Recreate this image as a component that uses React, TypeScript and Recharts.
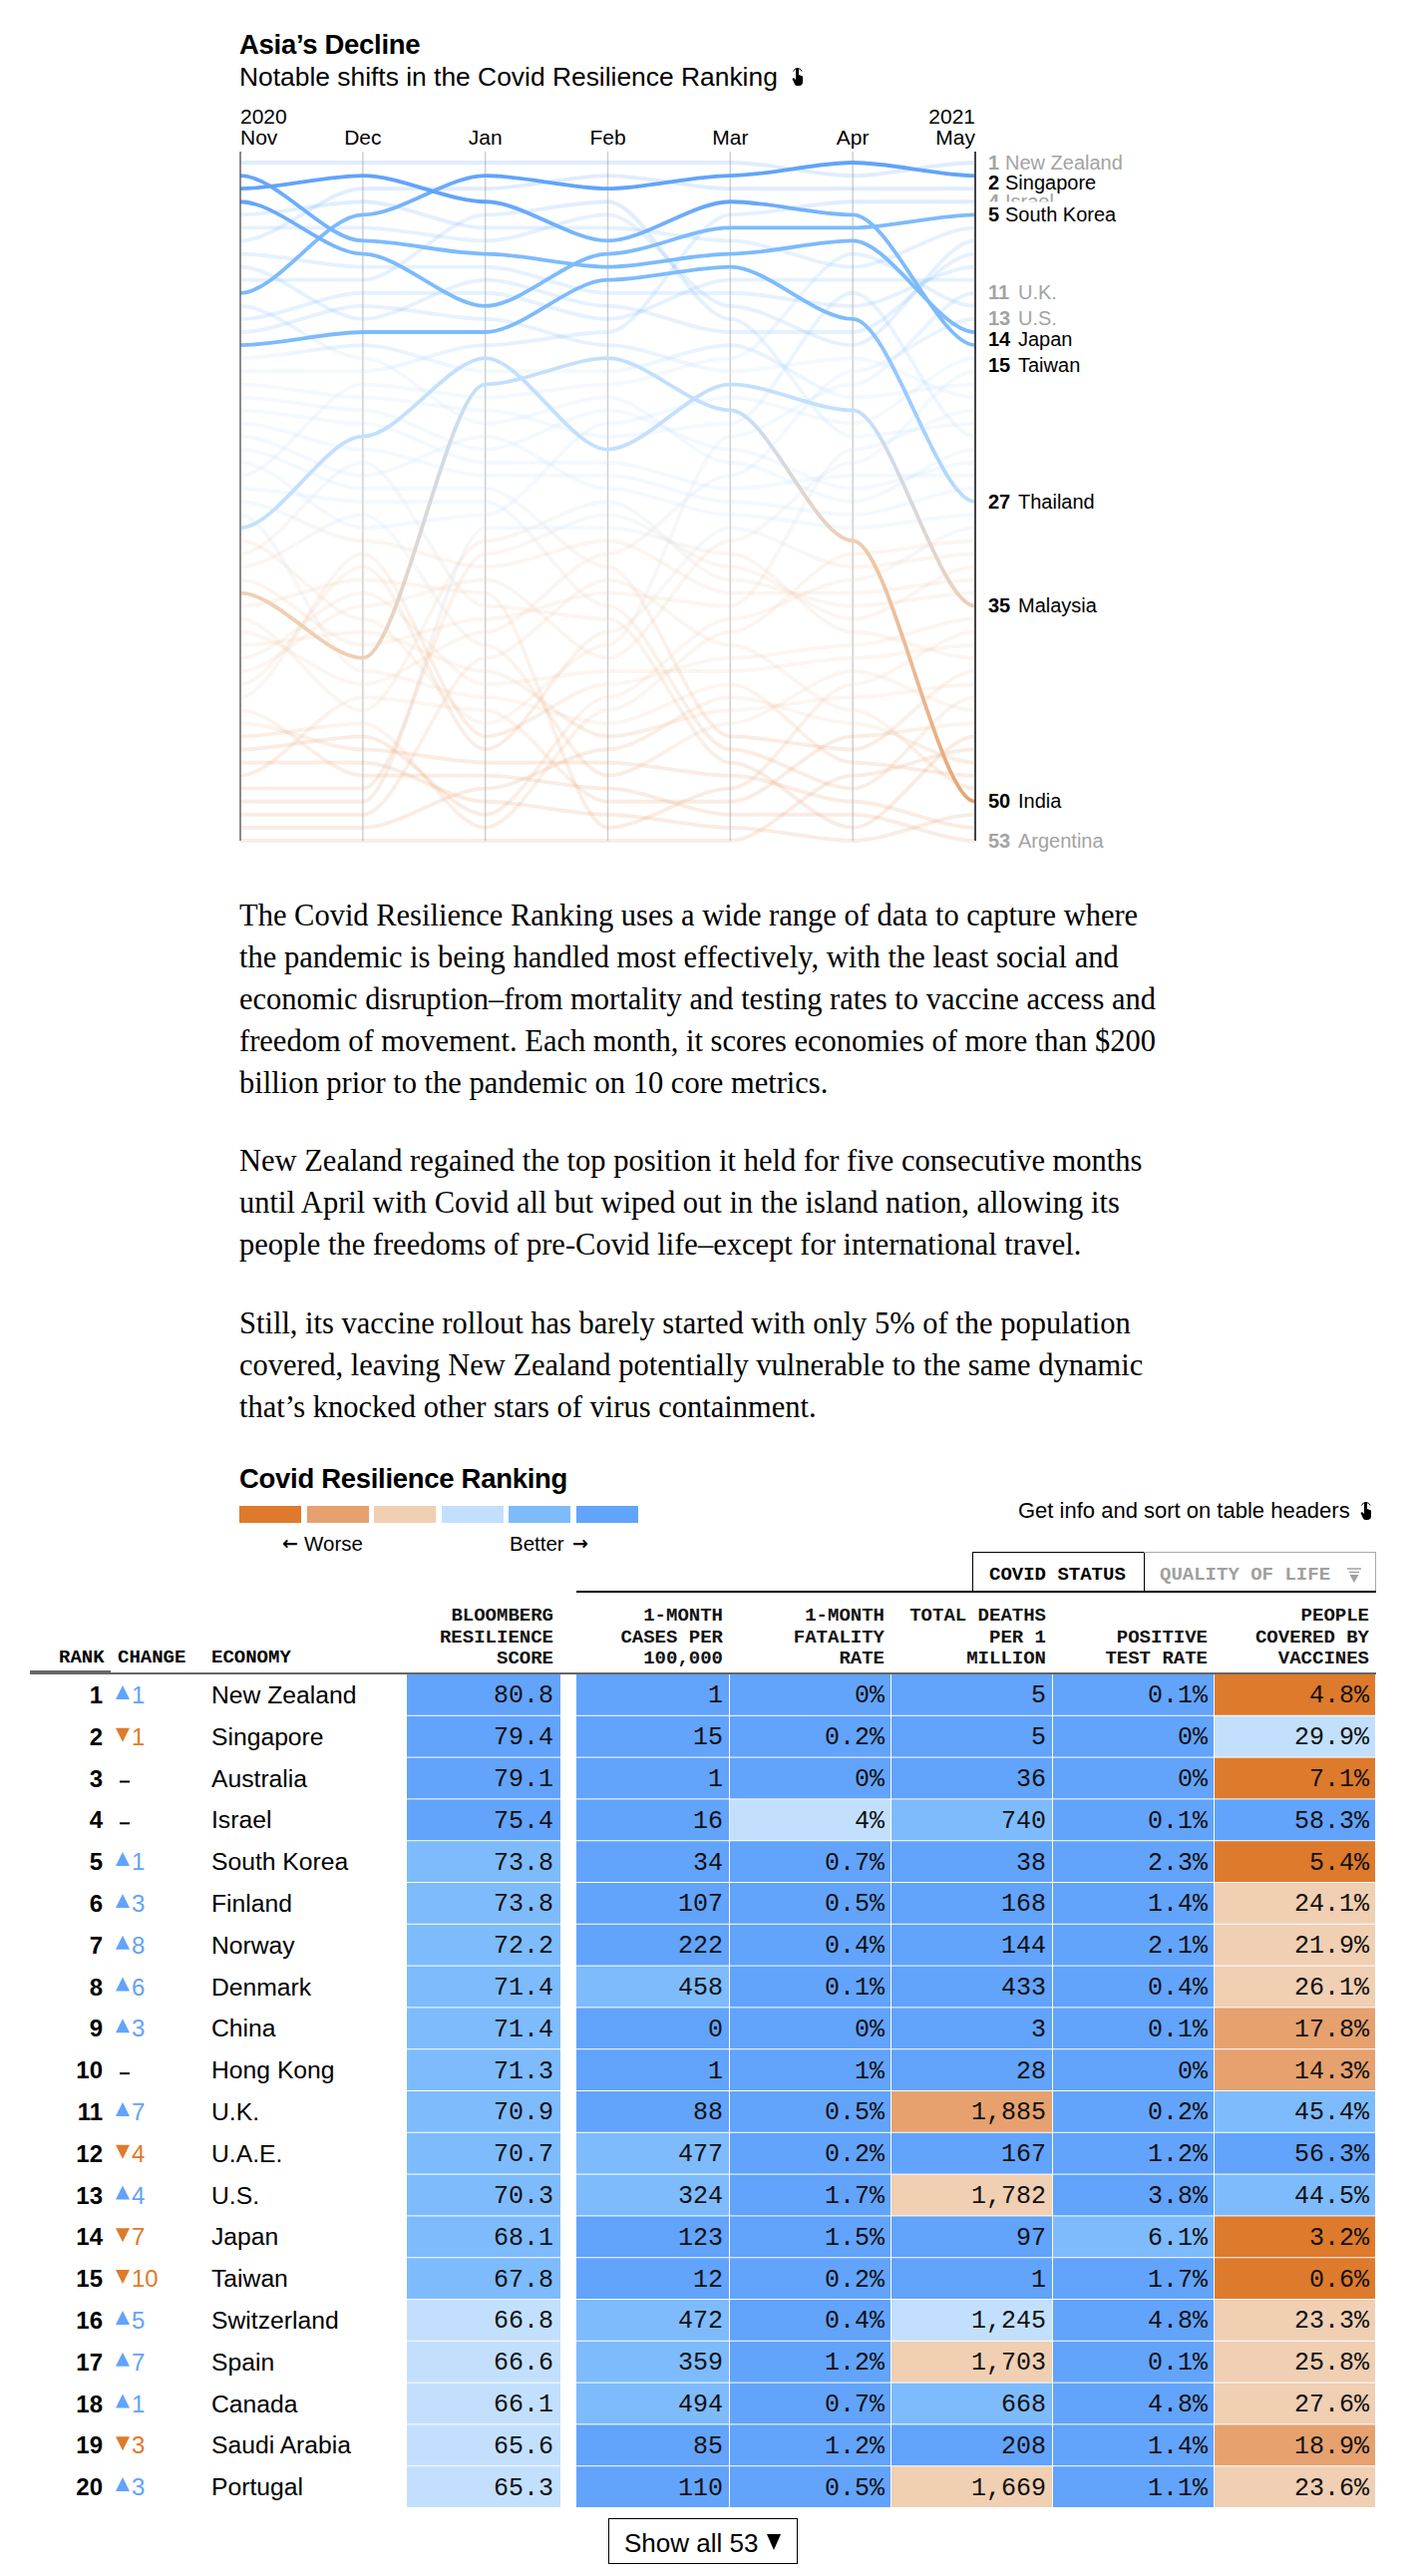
import { CartesianGrid, Line, LineChart, ReferenceLine, Scatter, ScatterChart, XAxis, YAxis } from "recharts";

const SANS = "'Liberation Sans', Arial, sans-serif";
const MONO = "'Liberation Mono', monospace";
const SERIF = "'Liberation Serif', serif";

const months = ["Nov", "Dec", "Jan", "Feb", "Mar", "Apr", "May"];
const yearLabels = ["2020", "", "", "", "", "", "2021"];

const highlightNames = ["Singapore", "South Korea", "Japan", "Taiwan", "Thailand", "Malaysia", "India"];
const highlightRanks = [
	[11, 5, 2, 3, 2, 1, 2],
	[4, 8, 12, 8, 6, 6, 5],
	[2, 7, 8, 9, 8, 7, 14],
	[3, 2, 4, 7, 4, 5, 15],
	[15, 14, 14, 10, 9, 13, 27],
	[29, 22, 16, 23, 18, 20, 35],
	[34, 39, 18, 16, 20, 30, 50],
];

const backgroundNames = [
	"New Zealand", "Australia", "Israel", "Finland", "Norway", "Denmark", "China", "Hong Kong", "UK", "UAE", "US",
	"Switzerland", "Spain", "Canada", "Saudi Arabia", "Portugal", "Vietnam", "Mexico", "Pakistan", "Peru", "Philippines",
	"Iran", "South Africa", "Brazil", "Argentina", "Colombia", "Iraq", "Egypt", "Nigeria", "Bangladesh", "Indonesia",
	"Austria", "Ireland", "Netherlands", "Sweden", "Germany", "France", "Russia", "Turkey", "Greece", "Poland", "Belgium",
	"Italy", "Czech Republic", "Romania", "Chile",
];
const backgroundRanks = [
	[1, 1, 1, 1, 1, 2, 1],
	[7, 3, 3, 2, 3, 3, 3],
	[17, 17, 15, 14, 5, 4, 4],
	[5, 4, 6, 6, 7, 9, 6],
	[6, 6, 7, 5, 12, 15, 7],
	[9, 13, 10, 12, 14, 14, 8],
	[8, 9, 9, 11, 11, 12, 9],
	[13, 11, 11, 13, 10, 10, 10],
	[30, 36, 44, 38, 22, 18, 11],
	[25, 18, 19, 18, 16, 8, 12],
	[37, 41, 37, 31, 25, 17, 13],
	[24, 29, 28, 21, 19, 21, 16],
	[40, 35, 33, 39, 30, 24, 17],
	[16, 15, 17, 17, 15, 19, 18],
	[14, 12, 13, 15, 17, 16, 19],
	[33, 38, 36, 34, 35, 23, 20],
	[10, 10, 5, 4, 13, 22, 21],
	[53, 53, 53, 53, 53, 48, 46],
	[52, 52, 49, 46, 42, 44, 47],
	[51, 51, 39, 33, 38, 43, 49],
	[47, 47, 50, 51, 52, 53, 51],
	[45, 44, 52, 43, 37, 31, 30],
	[46, 45, 51, 42, 36, 33, 29],
	[44, 46, 47, 47, 48, 50, 52],
	[43, 48, 48, 49, 51, 51, 53],
	[28, 40, 42, 44, 41, 47, 48],
	[48, 42, 43, 50, 50, 45, 44],
	[35, 33, 34, 52, 49, 41, 37],
	[12, 16, 21, 19, 24, 27, 23],
	[18, 19, 20, 22, 21, 11, 22],
	[19, 20, 23, 20, 23, 26, 24],
	[20, 21, 24, 24, 26, 25, 25],
	[21, 23, 25, 25, 27, 28, 26],
	[22, 25, 22, 26, 28, 29, 28],
	[27, 30, 32, 30, 34, 34, 33],
	[38, 37, 40, 45, 43, 42, 41],
	[39, 34, 41, 40, 40, 39, 38],
	[41, 32, 46, 37, 29, 32, 31],
	[42, 31, 45, 41, 39, 38, 36],
	[36, 43, 30, 27, 33, 35, 34],
	[49, 49, 31, 28, 32, 36, 32],
	[50, 50, 29, 29, 31, 37, 39],
	[23, 26, 26, 32, 45, 46, 40],
	[26, 27, 27, 35, 46, 49, 42],
	[31, 24, 35, 36, 47, 52, 45],
	[32, 28, 38, 48, 44, 40, 43],
];

const labelRanks = [1, 2, 4, 5, 11, 13, 14, 15, 27, 35, 50, 53];
const labelNames = ["New Zealand", "Singapore", "Israel", "South Korea", "U.K.", "U.S.", "Japan", "Taiwan", "Thailand", "Malaysia", "India", "Argentina"];
const labelDark = [false, true, false, true, false, false, true, true, true, true, true, false];
// labels pushed down so they don't sit on each other
const labelNudge: Record<number, number> = { 2: 7, 14: 7, 15: 20 };

const economies = ["New Zealand", "Singapore", "Australia", "Israel", "South Korea", "Finland", "Norway", "Denmark", "China", "Hong Kong", "U.K.", "U.A.E.", "U.S.", "Japan", "Taiwan", "Switzerland", "Spain", "Canada", "Saudi Arabia", "Portugal"];
const rankChange = [1, -1, 0, 0, 1, 3, 8, 6, 3, 0, 7, -4, 4, -7, -10, 5, 7, 1, -3, 3];

const resilienceScore = [80.8, 79.4, 79.1, 75.4, 73.8, 73.8, 72.2, 71.4, 71.4, 71.3, 70.9, 70.7, 70.3, 68.1, 67.8, 66.8, 66.6, 66.1, 65.6, 65.3];
const casesPer100k = [1, 15, 1, 16, 34, 107, 222, 458, 0, 1, 88, 477, 324, 123, 12, 472, 359, 494, 85, 110];
const fatalityRate = [0, 0.2, 0, 4, 0.7, 0.5, 0.4, 0.1, 0, 1, 0.5, 0.2, 1.7, 1.5, 0.2, 0.4, 1.2, 0.7, 1.2, 0.5];
const deathsPerMillion = [5, 5, 36, 740, 38, 168, 144, 433, 3, 28, 1885, 167, 1782, 97, 1, 1245, 1703, 668, 208, 1669];
const positiveRate = [0.1, 0, 0, 0.1, 2.3, 1.4, 2.1, 0.4, 0.1, 0, 0.2, 1.2, 3.8, 6.1, 1.7, 4.8, 0.1, 4.8, 1.4, 1.1];
const vaccineCoverage = [4.8, 29.9, 7.1, 58.3, 5.4, 24.1, 21.9, 26.1, 17.8, 14.3, 45.4, 56.3, 44.5, 3.2, 0.6, 23.3, 25.8, 27.6, 18.9, 23.6];

// color class of each cell, 0 = worst .. 5 = best
const scoreLevels = [5, 5, 5, 5, 4, 4, 4, 4, 4, 4, 4, 4, 4, 4, 4, 3, 3, 3, 3, 3];
const casesLevels = [5, 5, 5, 5, 5, 5, 5, 4, 5, 5, 5, 4, 4, 5, 5, 4, 4, 4, 5, 5];
const fatalityLevels = [5, 5, 5, 3, 5, 5, 5, 5, 5, 5, 5, 5, 5, 5, 5, 5, 5, 5, 5, 5];
const deathsLevels = [5, 5, 5, 4, 5, 5, 5, 5, 5, 5, 1, 5, 2, 5, 5, 3, 2, 4, 5, 2];
const positiveLevels = [5, 5, 5, 5, 5, 5, 5, 5, 5, 5, 5, 5, 5, 4, 5, 5, 5, 5, 5, 5];
const vaccineLevels = [0, 3, 0, 5, 0, 2, 2, 2, 1, 1, 4, 5, 4, 0, 0, 2, 2, 2, 1, 2];

const metricHeaders = [
	["BLOOMBERG", "RESILIENCE", "SCORE"],
	["1-MONTH", "CASES PER", "100,000"],
	["1-MONTH", "FATALITY", "RATE"],
	["TOTAL DEATHS", "PER 1", "MILLION"],
	["", "POSITIVE", "TEST RATE"],
	["PEOPLE", "COVERED BY", "VACCINES"],
];
const metricKeys = metricHeaders.map((lines) => lines.join(" ").trim());

const LEVEL_COLORS = ["#de7a2c", "#e6a16e", "#f0cfb3", "#c2e0fe", "#7dbbfc", "#62a3fb"];

const paragraphs = [
	[
		"The Covid Resilience Ranking uses a wide range of data to capture where",
		"the pandemic is being handled most effectively, with the least social and",
		"economic disruption\u2013from mortality and testing rates to vaccine access and",
		"freedom of movement. Each month, it scores economies of more than $200",
		"billion prior to the pandemic on 10 core metrics.",
	],
	[
		"New Zealand regained the top position it held for five consecutive months",
		"until April with Covid all but wiped out in the island nation, allowing its",
		"people the freedoms of pre-Covid life\u2013except for international travel.",
	],
	[
		"Still, its vaccine rollout has barely started with only 5% of the population",
		"covered, leaving New Zealand potentially vulnerable to the same dynamic",
		"that\u2019s knocked other stars of virus containment.",
	],
];
const paragraphTops = [918, 1164, 1327];

const rankColor = (rank: number) => {
	if (rank <= 4) return LEVEL_COLORS[5];
	if (rank <= 15) return LEVEL_COLORS[4];
	if (rank <= 29) return LEVEL_COLORS[3];
	if (rank <= 44) return LEVEL_COLORS[2];
	return LEVEL_COLORS[1];
};

const bumpRows = months.map((month, m) => {
	const row: Record<string, number | string> = { month };
	highlightNames.forEach((name, i) => (row[name] = highlightRanks[i][m]));
	backgroundNames.forEach((name, i) => (row[name] = backgroundRanks[i][m]));
	return row;
});

const metrics = [
	{ values: resilienceScore, levels: scoreLevels, format: (v: number) => v.toFixed(1) },
	{ values: casesPer100k, levels: casesLevels, format: (v: number) => String(v) },
	{ values: fatalityRate, levels: fatalityLevels, format: (v: number) => `${v}%` },
	{ values: deathsPerMillion, levels: deathsLevels, format: (v: number) => v.toLocaleString("en-US") },
	{ values: positiveRate, levels: positiveLevels, format: (v: number) => `${v}%` },
	{ values: vaccineCoverage, levels: vaccineLevels, format: (v: number) => `${v.toFixed(1)}%` },
];
const cells = economies.flatMap((economy, row) =>
	metrics.map((metric, col) => ({
		economy,
		metric: metricKeys[col],
		col,
		text: metric.format(metric.values[row]),
		level: metric.levels[row],
	})),
);

const CELL_W = 162;
const CELL_H = 41.8;

// like d3's bumpX but the flat part at each month is shorter
const softBumpX = (context: any) => {
	let px = 0;
	let py = 0;
	let n = 0;
	return {
		areaStart() {},
		areaEnd() {},
		lineStart() {
			n = 0;
		},
		lineEnd() {},
		point(x: number, y: number) {
			if (n === 0) context.moveTo(x, y);
			else {
				const dx = (x - px) * 0.3;
				context.bezierCurveTo(px + dx, py, x - dx, y, x, y);
			}
			px = x;
			py = y;
			n++;
		},
	};
};

const RankGradient = ({ id, ranks }: { id: string; ranks: number[] }) => (
	<linearGradient id={id} gradientUnits="userSpaceOnUse" x1={241} x2={978} y1={0} y2={0}>
		{ranks.map((r, i) => (
			<stop key={i} offset={i / (ranks.length - 1)} stopColor={rankColor(r)} />
		))}
	</linearGradient>
);

const MonthTick = ({ x, payload, index }: any) => {
	const anchor = index === 0 ? "start" : index === months.length - 1 ? "end" : "middle";
	return (
		<g fontFamily={SANS} fontSize={21} fill="#000" textAnchor={anchor}>
			{yearLabels[index] && (
				<text x={x} y={124}>
					{yearLabels[index]}
				</text>
			)}
			<text x={x} y={145}>
				{payload.value}
			</text>
		</g>
	);
};

const RankLabelTick = ({ y, payload }: any) => {
	const rank = payload.value;
	const i = labelRanks.indexOf(rank);
	const dark = labelDark[i];
	const fill = dark ? "#000" : "#a3a3a3";
	const cy = y + (labelNudge[rank] ?? 0);
	return (
		<g fontFamily={SANS} fontSize={20} fill={fill}>
			{dark && <rect x={984} y={cy - 13} width={230} height={24} fill="#fff" />}
			<text x={991} y={cy + 6.5} fontWeight="bold">
				{rank}
			</text>
			<text x={rank < 10 ? 1008 : 1021} y={cy + 6.5}>
				{labelNames[i]}
			</text>
		</g>
	);
};

const HeaderTick = ({ x, payload }: any) => {
	const col = metricKeys.indexOf(payload.value);
	const right = x + CELL_W / 2 - (col === 0 ? 15 : 7);
	return (
		<g fontFamily={MONO} fontSize={19} fontWeight="bold" fill="#111" textAnchor="end">
			{metricHeaders[col].map((line, i) => (
				<text key={i} x={right} y={85 + i * 21.5}>
					{line}
				</text>
			))}
		</g>
	);
};

const EconomyTick = ({ y, payload }: any) => {
	const i = economies.indexOf(payload.value);
	const change = rankChange[i];
	const color = change > 0 ? LEVEL_COLORS[5] : LEVEL_COLORS[0];
	return (
		<g fontFamily={SANS} fontSize={24}>
			<text x={103} y={y + 9} textAnchor="end" fontWeight="bold" fill="#000">
				{i + 1}
			</text>
			{change === 0 ? (
				<rect x={120} y={y + 3} width={10} height={2} fill="#000" />
			) : (
				<g>
					<polygon
						points={change > 0 ? `116,${y + 5} 130,${y + 5} 123,${y - 9}` : `116,${y - 8} 130,${y - 8} 123,${y + 6}`}
						fill={color}
					/>
					<text x={132} y={y + 9} fill={color}>
						{Math.abs(change)}
					</text>
				</g>
			)}
			<text x={212} y={y + 9} fill="#000" fontSize={24.7}>
				{payload.value}
			</text>
		</g>
	);
};

const CellShape = ({ cx, cy, payload }: any) => {
	// score and cases columns are pulled apart, leaving a white gap between them
	const left = cx - CELL_W / 2 + (payload.col === 1 ? 8 : 0);
	const right = cx + CELL_W / 2 - (payload.col === 0 ? 8 : 1);
	const textRight = cx + CELL_W / 2 - (payload.col === 0 ? 15 : 7);
	return (
		<g>
			<rect x={left} y={cy - CELL_H / 2 + 1} width={right - left} height={CELL_H - 1} fill={LEVEL_COLORS[payload.level]} />
			<text x={textRight} y={cy + 8.5} textAnchor="end" fontFamily={MONO} fontSize={25} fill="#111">
				{payload.text}
			</text>
		</g>
	);
};

const Text = ({ left, top, size, children, bold, color = "#000", font = SANS, spacing = 0 }: any) => (
	<div
		style={{
			position: "absolute",
			left,
			top,
			transform: "translateY(-50%)",
			whiteSpace: "nowrap",
			lineHeight: 1,
			fontFamily: font,
			fontSize: size,
			fontWeight: bold ? "bold" : "normal",
			color,
			letterSpacing: spacing,
		}}>
		{children}
	</div>
);

const Box = ({ left, top, width, height, style }: any) => (
	<div style={{ position: "absolute", left, top, width, height, boxSizing: "border-box", ...style }} />
);

const HandIcon = ({ left, top }: { left: number; top: number }) => (
	<svg style={{ position: "absolute", left, top }} width={14} height={20} viewBox="0 0 14 20">
		<path d="M5 8 V2.5 a1.5 1.5 0 0 1 3 0 V8 l4 1.5 V15 a4 4 0 0 1 -4 4 H6.5 a3 3 0 0 1 -2.4 -1.2 L1.5 12 l1.5 -1 L5 13 Z" fill="#000" />
		<path d="M2.5 4.5 a4.5 4.5 0 0 1 8.5 0" fill="none" stroke="#000" strokeWidth={1} />
	</svg>
);

const BumpChart = () => (
	<div style={{ position: "absolute", left: 0, top: 0 }}>
		<LineChart width={1422} height={860} data={bumpRows} margin={{ top: 122, right: 0, bottom: 17, left: 241 }}>
			<defs>
				{highlightRanks.map((ranks, i) => (
					<RankGradient key={i} id={`hl-${i}`} ranks={ranks} />
				))}
				{backgroundRanks.map((ranks, i) => (
					<RankGradient key={i} id={`bg-${i}`} ranks={ranks} />
				))}
			</defs>
			<CartesianGrid horizontal={false} stroke="#cfcfcf" strokeWidth={1.5} />
			<XAxis dataKey="month" orientation="top" height={30} axisLine={false} tickLine={false} interval={0} tick={MonthTick} />
			<YAxis
				orientation="right"
				width={444}
				type="number"
				reversed
				domain={[1, 53]}
				ticks={labelRanks}
				interval={0}
				padding={{ top: 11, bottom: 0 }}
				axisLine={false}
				tickLine={false}
				tick={RankLabelTick}
			/>
			{backgroundNames.map((name, i) => (
				<Line
					key={name}
					dataKey={name}
					type={softBumpX as any}
					stroke={`url(#bg-${i})`}
					strokeOpacity={0.2}
					strokeWidth={3.8}
					dot={false}
					activeDot={false}
					isAnimationActive={false}
				/>
			))}
			{highlightNames.map((name, i) => (
				<Line
					key={name}
					dataKey={name}
					type={softBumpX as any}
					stroke={`url(#hl-${i})`}
					strokeWidth={3.8}
					dot={false}
					activeDot={false}
					isAnimationActive={false}
				/>
			))}
			<ReferenceLine x="Nov" stroke="#555" strokeWidth={1.2} />
			<ReferenceLine x="May" stroke="#444" strokeWidth={2} />
		</LineChart>
	</div>
);

const RankingTable = () => (
	<div style={{ position: "absolute", left: 0, top: 1540 }}>
		<ScatterChart width={1422} height={980} margin={{ top: 0, right: 42, bottom: 6, left: 0 }}>
			<XAxis
				dataKey="metric"
				type="category"
				scale="band"
				orientation="top"
				height={138}
				ticks={metricKeys}
				allowDuplicatedCategory={false}
				axisLine={false}
				tickLine={false}
				interval={0}
				tick={HeaderTick}
			/>
			<YAxis
				dataKey="economy"
				type="category"
				scale="band"
				reversed
				width={408}
				ticks={economies}
				allowDuplicatedCategory={false}
				axisLine={false}
				tickLine={false}
				interval={0}
				tick={EconomyTick}
			/>
			<Scatter data={cells} shape={CellShape} isAnimationActive={false} />
		</ScatterChart>
	</div>
);

export default function App() {
	const legendLefts = [240, 308, 375, 443, 510, 578];
	return (
		<div style={{ position: "absolute", left: 0, top: 0, width: 1422, height: 2583, overflow: "hidden", background: "#fff" }}>
			<Text left={240} top={45} size={27.5} bold spacing={-0.3}>
				Asia’s Decline
			</Text>
			<Text left={240} top={77} size={26.4}>
				Notable shifts in the Covid Resilience Ranking
			</Text>
			<HandIcon left={793} top={67} />
			<BumpChart />

			{paragraphs.map((lines, p) =>
				lines.map((line, l) => (
					<Text key={`${p}-${l}`} left={240} top={paragraphTops[p] + l * 41.9} size={30.5} font={SERIF}>
						{line}
					</Text>
				)),
			)}

			<Text left={240} top={1483} size={27.5} bold spacing={-0.3}>
				Covid Resilience Ranking
			</Text>
			{legendLefts.map((left, i) => (
				<Box key={left} left={left} top={1510} width={62} height={17} style={{ background: LEVEL_COLORS[i] }} />
			))}
			<Text left={283} top={1547} size={19} bold font="'DejaVu Sans', sans-serif">
				←
			</Text>
			<Text left={305} top={1548} size={20.5}>
				Worse
			</Text>
			<Text left={511} top={1548} size={20.5}>
				Better
			</Text>
			<Text left={574} top={1547} size={19} bold font="'DejaVu Sans', sans-serif">
				→
			</Text>
			<Text left={1021} top={1515} size={22}>
				Get info and sort on table headers
			</Text>
			<HandIcon left={1363} top={1505} />

			<Box left={975} top={1556} width={173} height={41} style={{ border: "1.5px solid #000", borderBottom: "none" }} />
			<Box left={1147} top={1556} width={233} height={40} style={{ border: "1.5px solid #aaa", borderBottom: "none", borderLeft: "none" }} />
			<Text left={992} top={1579} size={19} bold font={MONO}>
				COVID STATUS
			</Text>
			<Text left={1163} top={1579} size={19} bold font={MONO} color="#a0a0a0">
				QUALITY OF LIFE
			</Text>
			<svg style={{ position: "absolute", left: 1351, top: 1572 }} width={14} height={16} viewBox="0 0 14 16">
				<path d="M0 1 H14 M2 4.5 H12" stroke="#a0a0a0" strokeWidth={1.5} />
				<path d="M2.5 7 H11.5 L7 15 Z" fill="#a0a0a0" />
			</svg>
			<Box left={578} top={1595} width={802} height={2} style={{ background: "#000" }} />

			<Text left={59} top={1662} size={19} bold font={MONO}>
				RANK
			</Text>
			<Text left={118} top={1662} size={19} bold font={MONO}>
				CHANGE
			</Text>
			<Text left={212} top={1662} size={19} bold font={MONO}>
				ECONOMY
			</Text>

			<RankingTable />
			<Box left={30} top={1677} width={1350} height={2} style={{ background: "#666" }} />
			<Box left={30} top={1675} width={81} height={4} style={{ background: "#666" }} />

			<Box left={610} top={2525} width={190} height={46} style={{ border: "1.5px solid #000" }} />
			<Text left={626} top={2550} size={26}>
				Show all 53
			</Text>
			<svg style={{ position: "absolute", left: 769, top: 2541 }} width={14} height={16} viewBox="0 0 14 16">
				<path d="M0 0 H14 L7 16 Z" fill="#000" />
			</svg>
		</div>
	);
}
